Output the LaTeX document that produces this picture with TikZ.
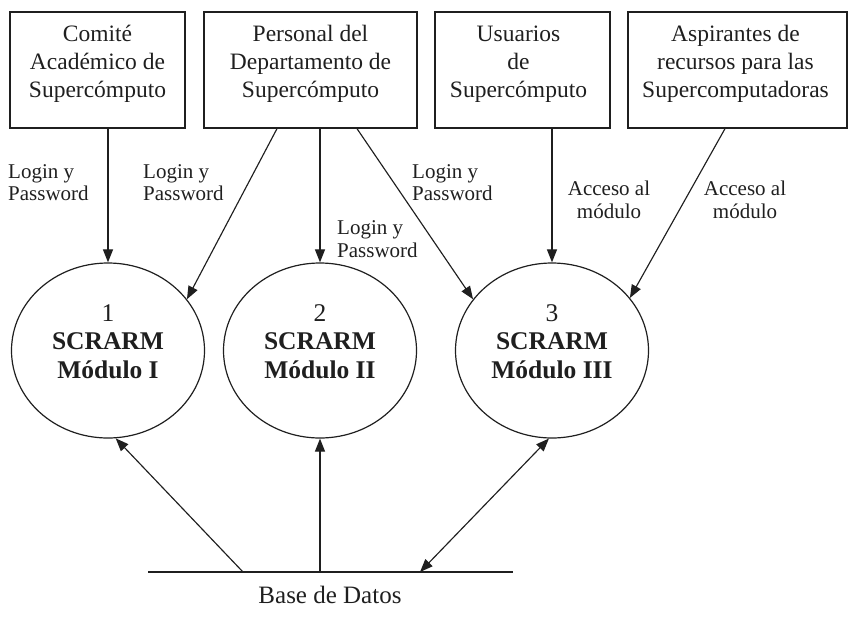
\documentclass[tikz,border=0pt]{standalone}
\usepackage{fontspec}
\setmainfont{Liberation Serif}
\usetikzlibrary{arrows.meta,shapes.geometric}
\begin{document}
\begin{tikzpicture}[x=1pt,y=-1pt,
  ink/.style={black!88},
  entity/.style={draw,ink,line width=1.3pt,rectangle,minimum height=116pt,inner sep=0pt},
  entitytext/.style={ink,align=center,font=\fontsize{23.5}{28}\selectfont,inner sep=0pt},
  process/.style={draw,ink,line width=1.2pt,ellipse,minimum width=193pt,minimum height=175pt,inner sep=0pt},
  processtext/.style={ink,align=center,font=\fontsize{25.5}{28.5}\selectfont,inner sep=0pt},
  flowlabel/.style={ink,align=left,font=\fontsize{21}{22.5}\selectfont,inner sep=0pt},
  accesslabel/.style={ink,align=center,font=\fontsize{21}{23.5}\selectfont,inner sep=0pt},
  flow/.style={ink,line width=1.15pt,-{Triangle[length=13pt,width=10pt]}},
  flowboth/.style={ink,line width=1.15pt,{Triangle[length=13pt,width=10pt]}-{Triangle[length=13pt,width=10pt]}}
]
\useasboundingbox (0,0) rectangle (854,627);

% external entities
\node[entity,minimum width=175pt] (b1) at (97.5,70) {};
\node[entity,minimum width=213pt] (b2) at (310.5,70) {};
\node[entity,minimum width=175pt] (b3) at (522.5,70) {};
\node[entity,minimum width=219pt] (b4) at (737.5,70) {};
\node[entitytext,yshift=6pt] (t1) at (b1.center) {Comité\\Académico de\\Supercómputo};
\node[entitytext,yshift=6pt] (t2) at (b2.center) {Personal del\\Departamento de\\Supercómputo};
\node[entitytext,yshift=6pt,xshift=-4pt] (t3) at (b3.center) {Usuarios\\de\\Supercómputo};
\node[entitytext,yshift=6pt,xshift=-2pt] (t4) at (b4.center) {Aspirantes de\\recursos para las\\Supercomputadoras};

% processes
\node[process] (m1) at (108,350.5) {};
\node[process] (m2) at (320,350.5) {};
\node[process] (m3) at (552,350.5) {};
\node[processtext,yshift=9pt] (p1) at (m1.center) {1\\\textbf{SCRARM}\\\textbf{Módulo I}};
\node[processtext,yshift=9pt] (p2) at (m2.center) {2\\\textbf{SCRARM}\\\textbf{Módulo II}};
\node[processtext,yshift=9pt] (p3) at (m3.center) {3\\\textbf{SCRARM}\\\textbf{Módulo III}};

% data store
\coordinate (dbL) at (148,572);
\coordinate (dbR) at (513,572);
\coordinate (db1) at (243,572);
\coordinate (db2) at (320,572);
\coordinate (db3) at (420,572);
\draw[ink,line width=1.2pt] (dbL) -- (dbR);
\node[ink,font=\fontsize{25}{28}\selectfont,inner sep=0pt] (dbname) at (330,595) {Base de Datos};

% flows from the entities
\draw[flow] (b1.south -| m1.north) -- (m1.north);
\draw[flow] ([xshift=-33.5pt]b2.south) -- (m1.33);
\draw[flow] (b2.south -| m2.north) -- (m2.north);
\draw[flow] ([xshift=46.5pt]b2.south) -- (m3.147);
\draw[flow] (b3.south -| m3.north) -- (m3.north);
\draw[flow] ([xshift=-12.5pt]b4.south) -- (m3.34);

% flows from the data store
\draw[flow] (db1) -- (m1.-85);
\draw[flow] (db2) -- (m2.south);
\draw[flowboth] (db3) -- (m3.-92);

% flow labels
\node[flowlabel,anchor=west] (l1) at (8,182.5) {Login y\\Password};
\node[flowlabel,anchor=west] (l2) at (143,182.5) {Login y\\Password};
\node[flowlabel,anchor=west] (l3) at (337,239) {Login y\\Password};
\node[flowlabel,anchor=west] (l4) at (412,182.5) {Login y\\Password};
\node[accesslabel] (a1) at (609,200) {Acceso al\\módulo};
\node[accesslabel] (a2) at (745,200) {Acceso al\\módulo};
\end{tikzpicture}
\end{document}
